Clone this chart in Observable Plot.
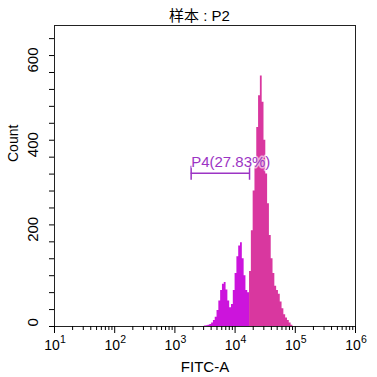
<!DOCTYPE html>
<html><head><meta charset="utf-8">
<script src="https://cdn.jsdelivr.net/npm/d3@7"></script>
<script src="https://cdn.jsdelivr.net/npm/@observablehq/plot@0.6"></script>
<style>
body{margin:0;background:#fff}
svg{font-family:"Liberation Sans",Arial,"Noto Sans CJK SC",sans-serif}
</style>
</head><body><div id="chart"></div>
<script>
const title = "样本 : P2";
const xLabel = "FITC-A";
const yLabel = "Count";
// histogram channels (log10 of FITC-A lower edge) and counts
const binEdges = [3.46,3.49,3.52,3.55,3.58,3.61,3.64,3.67,3.70,3.73,3.76,3.79,3.82,3.85,3.88,3.91,3.94,3.97,4.00,4.03,4.06,4.09,4.12,4.15,4.18,4.21,4.24,4.27,4.30,4.33,4.36,4.39,4.42,4.45,4.48,4.51,4.54,4.57,4.60,4.63,4.66,4.69,4.72,4.75,4.78,4.81,4.84,4.87,4.90,4.93,4.96];
const binCounts = [0,1,2,3,5,8,14,22,38,60,85,100,104,86,60,44,52,85,125,165,190,198,160,120,85,80,130,226,320,380,470,545,592,530,440,360,290,215,160,125,95,85,76,58,42,28,20,14,8,3,0];
const histEnd = 4.99;
const gateName = "P4(27.83%)";
const gateFrom = 3.27;
const gateTo = 4.24;
const gateLevel = 362;
const xTickExps = [1,2,3,4,5,6];
const xTickBase = "10";
const xTickPowers = ["1","2","3","4","5","6"];
const yTickValues = [0,200,400,600];

const rows = binEdges.map((e,i)=>({x:e,y:binCounts[i]}));
const inGate = rows.filter(d=>d.x<gateTo);
const outGate = rows.filter(d=>d.x>=gateTo);
const purple = inGate.concat([{x:gateTo,y:inGate[inGate.length-1].y}]);
const pink = outGate.concat([{x:histEnd,y:outGate[outGate.length-1].y}]);
const minorX = d3.range(1,6).flatMap(k=>d3.range(2,10).map(m=>k+Math.log10(m)));
const minorY = d3.range(0,711,40);

const gateColor = "#9c34c4";
const chart = Plot.plot({
  width:377, height:377,
  marginLeft:54, marginRight:22, marginTop:25, marginBottom:51,
  x:{domain:[1,6]},
  y:{domain:[0,711]},
  style:{fontFamily:'"Liberation Sans",Arial,"Noto Sans CJK SC",sans-serif', fontSize:"14px", color:"#000", background:"#fff"},
  marks:[
    Plot.areaY(purple,{x:"x",y:"y",curve:"step-after",fill:"#cc14dc"}),
    Plot.areaY(pink,{x:"x",y:"y",curve:"step-after",fill:"#d9379f"}),
    Plot.ruleY([gateLevel],{x1:gateFrom,x2:gateTo,stroke:gateColor,strokeWidth:1.5}),
    Plot.ruleX([gateFrom,gateTo],{y1:gateLevel,y2:gateLevel,insetTop:-7,insetBottom:-7,stroke:gateColor,strokeWidth:1.5}),
    Plot.text([gateName],{x:gateFrom,y:gateLevel,text:d=>d,textAnchor:"start",lineAnchor:"bottom",dy:-6,fontSize:15,fill:gateColor,stroke:"white",strokeOpacity:0.6,strokeWidth:3}),
    Plot.frame({stroke:"#222"}),
    Plot.axisY({ticks:minorY,tickSize:5,tickFormat:()=>"" ,label:null}),
    Plot.text(yTickValues,{y:d=>d,text:d=>String(d),frameAnchor:"left",rotate:-90,dx:-21,fontSize:15,fill:"#000"}),
    Plot.axisX({ticks:minorX,tickSize:4,tickFormat:()=>"",label:null}),
    Plot.axisX({ticks:xTickExps,tickSize:7,tickFormat:()=>"",label:null}),
    Plot.text(xTickExps,{x:d=>d,text:()=>xTickBase,frameAnchor:"bottom",lineAnchor:"bottom",dy:23.5,dx:-2.5,fontSize:14,fill:"#000"}),
    Plot.text(xTickExps,{x:d=>d,text:(d,i)=>xTickPowers[i],frameAnchor:"bottom",lineAnchor:"bottom",textAnchor:"start",dy:16.8,dx:5.5,fontSize:10.5,fill:"#000"}),
    Plot.text([xLabel],{text:d=>d,frameAnchor:"bottom",lineAnchor:"bottom",dy:45.7,fontSize:15,fill:"#000"}),
    Plot.text([yLabel],{text:d=>d,frameAnchor:"left",rotate:-90,dx:-41,dy:-14,fontSize:14,fill:"#000"}),
    Plot.text([title],{text:d=>d,frameAnchor:"top",dy:-15,dx:-5.5,fontSize:15,fill:"#000"})
  ]
});
document.getElementById("chart").append(chart);
</script>
</body></html>
